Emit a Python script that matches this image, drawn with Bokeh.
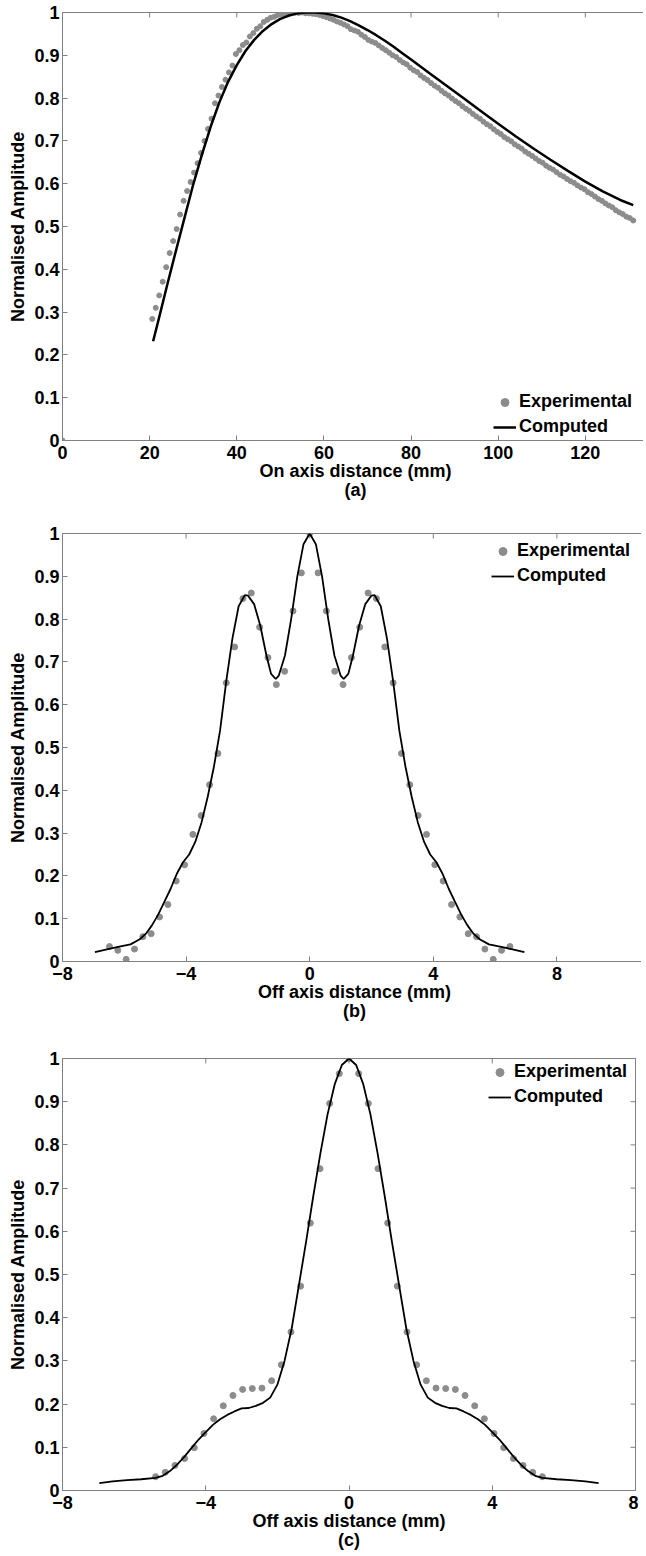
import math
from bokeh.plotting import figure
from bokeh.models import FixedTicker, Legend, LegendItem, Title, Range1d
from bokeh.layouts import column
from bokeh.embed import file_html
from bokeh.resources import INLINE

FONT = "Liberation Sans"
GRAY = "#808080"
DOT = "#8c8c8c"

y_ticks = [0, 0.1, 0.2, 0.3, 0.4, 0.5, 0.6, 0.7, 0.8, 0.9, 1]
y_tick_labels = ["0", "0.1", "0.2", "0.3", "0.4", "0.5", "0.6", "0.7", "0.8", "0.9", "1"]
a_x_ticks = [0, 20, 40, 60, 80, 100, 120]
bc_x_ticks = [-8, -4, 0, 4, 8]

y_label = "Normalised Amplitude"
a_x_label = "On axis distance (mm)"
bc_x_label = "Off axis distance (mm)"
series_names = ["Experimental", "Computed"]
panel_tags = ["(a)", "(b)", "(c)"]

# ---------------- panel (a) ----------------
a_exp_x = [0.0,
    20.6, 21.4, 22.2, 23.0, 23.8, 24.6, 25.4, 26.2, 27.0, 27.8, 28.6, 29.4, 30.2, 31.0, 31.8,
    32.6, 33.4, 34.2, 35.0, 35.8, 36.6, 37.4, 38.2, 39.0, 39.8, 40.6, 41.4, 42.2, 43.0, 43.8,
    44.6, 45.4, 46.2, 47.0, 47.8, 48.6, 49.4, 50.2, 51.0, 51.8, 52.6, 53.4, 54.2, 55.0, 55.8,
    56.6, 57.4, 58.2, 59.0, 59.8, 60.6, 61.4, 62.2, 63.0, 63.8, 64.6, 65.4, 66.2, 67.0, 67.8,
    68.6, 69.4, 70.2, 71.0, 71.8, 72.6, 73.4, 74.2, 75.0, 75.8, 76.6, 77.4, 78.2, 79.0, 79.8,
    80.6, 81.4, 82.2, 83.0, 83.8, 84.6, 85.4, 86.2, 87.0, 87.8, 88.6, 89.4, 90.2, 91.0, 91.8,
    92.6, 93.4, 94.2, 95.0, 95.8, 96.6, 97.4, 98.2, 99.0, 99.8, 100.6, 101.4, 102.2, 103.0, 103.8,
    104.6, 105.4, 106.2, 107.0, 107.8, 108.6, 109.4, 110.2, 111.0, 111.8, 112.6, 113.4, 114.2, 115.0, 115.8,
    116.6, 117.4, 118.2, 119.0, 119.8, 120.6, 121.4, 122.2, 123.0, 123.8, 124.6, 125.4, 126.2, 127.0, 127.8,
    128.6, 129.4, 130.2, 131.0]
a_exp_y = [0.0,
    0.284, 0.310, 0.339, 0.371, 0.405, 0.438, 0.466, 0.494, 0.528, 0.560, 0.583, 0.604, 0.626, 0.648, 0.672,
    0.700, 0.728, 0.752, 0.788, 0.806, 0.826, 0.843, 0.860, 0.876, 0.903, 0.912, 0.924, 0.930, 0.944, 0.952,
    0.962, 0.968, 0.978, 0.983, 0.988, 0.990, 0.994, 0.996, 0.998, 0.999, 1.000, 1.000, 0.999, 1.000, 0.998,
    0.998, 0.997, 0.996, 0.994, 0.992, 0.989, 0.986, 0.983, 0.979, 0.976, 0.972, 0.968, 0.961, 0.958, 0.955,
    0.948, 0.943, 0.936, 0.932, 0.929, 0.923, 0.917, 0.912, 0.906, 0.900, 0.896, 0.889, 0.883, 0.879, 0.871,
    0.865, 0.861, 0.853, 0.847, 0.842, 0.835, 0.829, 0.824, 0.817, 0.811, 0.806, 0.799, 0.793, 0.788, 0.781,
    0.775, 0.770, 0.763, 0.757, 0.752, 0.745, 0.739, 0.734, 0.727, 0.721, 0.716, 0.709, 0.704, 0.699, 0.692,
    0.687, 0.682, 0.675, 0.670, 0.665, 0.659, 0.653, 0.649, 0.642, 0.637, 0.633, 0.627, 0.621, 0.617, 0.611,
    0.606, 0.602, 0.596, 0.591, 0.587, 0.580, 0.576, 0.570, 0.564, 0.560, 0.554, 0.549, 0.545, 0.538, 0.533,
    0.529, 0.523, 0.520, 0.514]
a_comp_x = [20.8, 22, 24, 26, 28, 30, 32, 34, 36, 38, 40, 42, 44, 46, 48, 50, 52, 54, 56, 58, 60,
            62, 64, 66, 68, 70, 72, 74, 76, 78, 80, 84, 88, 92, 96, 100, 104, 108, 112, 116, 120,
            124, 128, 131]
a_comp_y = [0.232, 0.280, 0.362, 0.442, 0.520, 0.598, 0.668, 0.733, 0.790, 0.838, 0.877, 0.910,
            0.936, 0.957, 0.973, 0.985, 0.993, 0.998, 1.000, 1.000, 0.998, 0.994, 0.988, 0.980,
            0.970, 0.959, 0.947, 0.934, 0.920, 0.905, 0.890, 0.860, 0.830, 0.800, 0.770, 0.740,
            0.711, 0.683, 0.656, 0.630, 0.605, 0.582, 0.562, 0.550]

# ---------------- panel (b) ----------------
b_exp_x = [-6.48, -6.21, -5.94, -5.67, -5.40, -5.13, -4.86, -4.59, -4.32, -4.05, -3.78, -3.51,
           -3.24, -2.97, -2.70, -2.43, -2.16, -1.89, -1.62, -1.35, -1.08, -0.81, -0.54, -0.27,
           0.0,
           0.27, 0.54, 0.81, 1.08, 1.35, 1.62, 1.89, 2.16, 2.43, 2.70, 2.97, 3.24,
           3.51, 3.78, 4.05, 4.32, 4.59, 4.86, 5.13, 5.40, 5.67, 5.94, 6.21, 6.48]
b_exp_y = [0.035, 0.026, 0.005, 0.029, 0.058, 0.065, 0.104, 0.133, 0.188, 0.226, 0.297, 0.341,
           0.413, 0.486, 0.651, 0.735, 0.848, 0.861, 0.781, 0.710, 0.647, 0.678, 0.819, 0.908,
           1.000,
           0.908, 0.819, 0.678, 0.647, 0.710, 0.781, 0.861, 0.848, 0.735, 0.651, 0.486, 0.413,
           0.341, 0.297, 0.226, 0.188, 0.133, 0.104, 0.065, 0.058, 0.029, 0.005, 0.026, 0.035]
b_comp_x = [-6.95, -6.6, -6.2, -5.8, -5.5, -5.3, -5.1, -4.9, -4.7, -4.5, -4.3, -4.1, -3.9,
            -3.7, -3.5, -3.3, -3.1, -2.9, -2.7, -2.5, -2.3, -2.1, -2.0, -1.8, -1.6, -1.4,
            -1.25, -1.1, -1.0, -0.8, -0.6, -0.4, -0.2, 0.0, 0.2, 0.4, 0.6, 0.8, 1.0, 1.1,
            1.25, 1.4, 1.6, 1.8, 2.0, 2.1, 2.3, 2.5, 2.7, 2.9, 3.1, 3.3, 3.5, 3.7, 3.9,
            4.1, 4.3, 4.5, 4.7, 4.9, 5.1, 5.3, 5.5, 5.8, 6.2, 6.6, 6.95]
b_comp_y = [0.022, 0.028, 0.034, 0.040, 0.052, 0.065, 0.085, 0.110, 0.140, 0.170, 0.205,
            0.232, 0.250, 0.280, 0.325, 0.385, 0.455, 0.540, 0.655, 0.755, 0.830, 0.856,
            0.855, 0.835, 0.785, 0.715, 0.672, 0.660, 0.668, 0.715, 0.800, 0.900, 0.975,
            1.000, 0.975, 0.900, 0.800, 0.715, 0.668, 0.660, 0.672, 0.715, 0.785, 0.835,
            0.855, 0.856, 0.830, 0.755, 0.655, 0.540, 0.455, 0.385, 0.325, 0.280, 0.250,
            0.232, 0.205, 0.170, 0.140, 0.110, 0.085, 0.065, 0.052, 0.040, 0.034, 0.028, 0.022]

# ---------------- panel (c) ----------------
c_exp_x = [-5.40, -5.13, -4.86, -4.59, -4.32, -4.05, -3.78, -3.51, -3.24, -2.97, -2.70,
           -2.43, -2.16, -1.89, -1.62, -1.35, -1.08, -0.81, -0.54, -0.27,
           0.0,
           0.27, 0.54, 0.81, 1.08, 1.35, 1.62, 1.89, 2.16, 2.43, 2.70, 2.97, 3.24, 3.51,
           3.78, 4.05, 4.32, 4.59, 4.86, 5.13, 5.40]
c_exp_y = [0.032, 0.042, 0.058, 0.074, 0.099, 0.132, 0.166, 0.196, 0.220, 0.234, 0.236,
           0.237, 0.254, 0.291, 0.367, 0.473, 0.619, 0.745, 0.896, 0.965,
           1.000,
           0.965, 0.896, 0.745, 0.619, 0.473, 0.367, 0.291, 0.254, 0.237, 0.236, 0.234,
           0.220, 0.196, 0.166, 0.132, 0.099, 0.074, 0.058, 0.042, 0.032]
c_comp_x = [-6.97, -6.6, -6.2, -5.8, -5.4, -5.2, -5.0, -4.8, -4.6, -4.4, -4.2, -4.0, -3.8,
            -3.6, -3.4, -3.2, -3.0, -2.8, -2.6, -2.4, -2.2, -2.0, -1.8, -1.6, -1.4, -1.2,
            -1.0, -0.8, -0.6, -0.4, -0.2, 0.0, 0.2, 0.4, 0.6, 0.8, 1.0, 1.2, 1.4, 1.6, 1.8,
            2.0, 2.2, 2.4, 2.6, 2.8, 3.0, 3.2, 3.4, 3.6, 3.8, 4.0, 4.2, 4.4, 4.6, 4.8, 5.0,
            5.2, 5.4, 5.8, 6.2, 6.6, 6.97]
c_comp_y = [0.017, 0.021, 0.024, 0.026, 0.029, 0.034, 0.045, 0.060, 0.078, 0.098, 0.118,
            0.135, 0.152, 0.165, 0.175, 0.183, 0.190, 0.191, 0.196, 0.203, 0.215, 0.245,
            0.300, 0.375, 0.475, 0.575, 0.680, 0.780, 0.870, 0.940, 0.985, 1.000, 0.985,
            0.940, 0.870, 0.780, 0.680, 0.575, 0.475, 0.375, 0.300, 0.245, 0.215, 0.203,
            0.196, 0.191, 0.190, 0.183, 0.175, 0.165, 0.152, 0.135, 0.118, 0.098, 0.078,
            0.060, 0.045, 0.034, 0.029, 0.026, 0.024, 0.021, 0.017]


def style_axis(ax):
    ax.axis_line_color = GRAY
    ax.major_tick_line_color = GRAY
    ax.minor_tick_line_color = None
    ax.major_tick_in = 5
    ax.major_tick_out = 0
    ax.major_label_text_font = FONT
    ax.major_label_text_font_size = "18px"
    ax.major_label_text_font_style = "bold"
    ax.major_label_text_color = "black"
    ax.axis_label_text_font = FONT
    ax.axis_label_text_font_size = "18px"
    ax.axis_label_text_font_style = "bold"
    ax.axis_label_text_color = "black"


def make_panel(x_rng, x_ticks, fw, fh, bl, br, bt, bb, ex, ey, cx, cy, xlabel, tag,
               dot_size, line_w, leg_loc):
    p = figure(frame_width=fw, frame_height=fh, x_range=Range1d(*x_rng), y_range=Range1d(0, 1),
               output_backend="svg", toolbar_location=None,
               min_border_left=bl, min_border_right=br, min_border_top=bt, min_border_bottom=bb)
    p.grid.visible = False
    p.outline_line_color = GRAY
    p.background_fill_color = "white"
    p.border_fill_color = "white"

    xa = p.xaxis[0]
    ya = p.yaxis[0]
    style_axis(xa)
    style_axis(ya)
    xa.ticker = FixedTicker(ticks=x_ticks)
    ya.ticker = FixedTicker(ticks=y_ticks)
    ya.major_label_overrides = dict(zip(y_ticks, y_tick_labels))
    xa.axis_label = xlabel
    ya.axis_label = y_label
    xa.major_label_standoff = 5
    xa.axis_label_standoff = -1
    ya.major_label_standoff = 3
    ya.axis_label_standoff = 3

    # inward tick marks on the top and right edges of the box (clipped to the frame)
    p.scatter(x_ticks, [p.y_range.end] * len(x_ticks), marker="dash", angle=math.pi / 2,
              size=10, line_color=GRAY, line_width=1)
    p.scatter([p.x_range.end] * len(y_ticks), y_ticks, marker="dash",
              size=10, line_color=GRAY, line_width=1)

    r_exp = p.scatter(ex, ey, size=dot_size, color=DOT, line_color=DOT)
    r_comp = p.line(cx, cy, line_width=line_w, color="black")

    leg = Legend(items=[LegendItem(label=series_names[0], renderers=[r_exp]),
                        LegendItem(label=series_names[1], renderers=[r_comp])],
                 location=leg_loc, border_line_color=None, background_fill_alpha=0,
                 padding=0, margin=0, spacing=4, glyph_width=23, glyph_height=20,
                 label_height=20, label_standoff=3, label_text_font=FONT,
                 label_text_font_size="18px", label_text_font_style="bold",
                 label_text_color="black")
    p.add_layout(leg)

    t = Title(text=tag, align="center", text_font=FONT, text_font_size="18px",
              text_font_style="bold", text_color="black", standoff=-11)
    p.add_layout(t, "below")
    return p


pa = make_panel((0, 134.5), a_x_ticks, 586, 428, 52, 0, 12, 62,
                a_exp_x, a_exp_y, a_comp_x, a_comp_y, a_x_label, panel_tags[0],
                5, 2.5, (436, 3))
pb = make_panel((-8, 10.9), bc_x_ticks, 584, 428, 54, 0, 31, 62,
                b_exp_x, b_exp_y, b_comp_x, b_comp_y, bc_x_label, panel_tags[1],
                6, 1.8, (434, 375))
pc = make_panel((-8, 8), bc_x_ticks, 573, 432, 62, 3, 35, 62,
                c_exp_x, c_exp_y, c_comp_x, c_comp_y, bc_x_label, panel_tags[2],
                6, 1.8, (426, 383))

layout = column(pa, pb, pc)
open("out.html", "w").write(file_html(layout, INLINE))
